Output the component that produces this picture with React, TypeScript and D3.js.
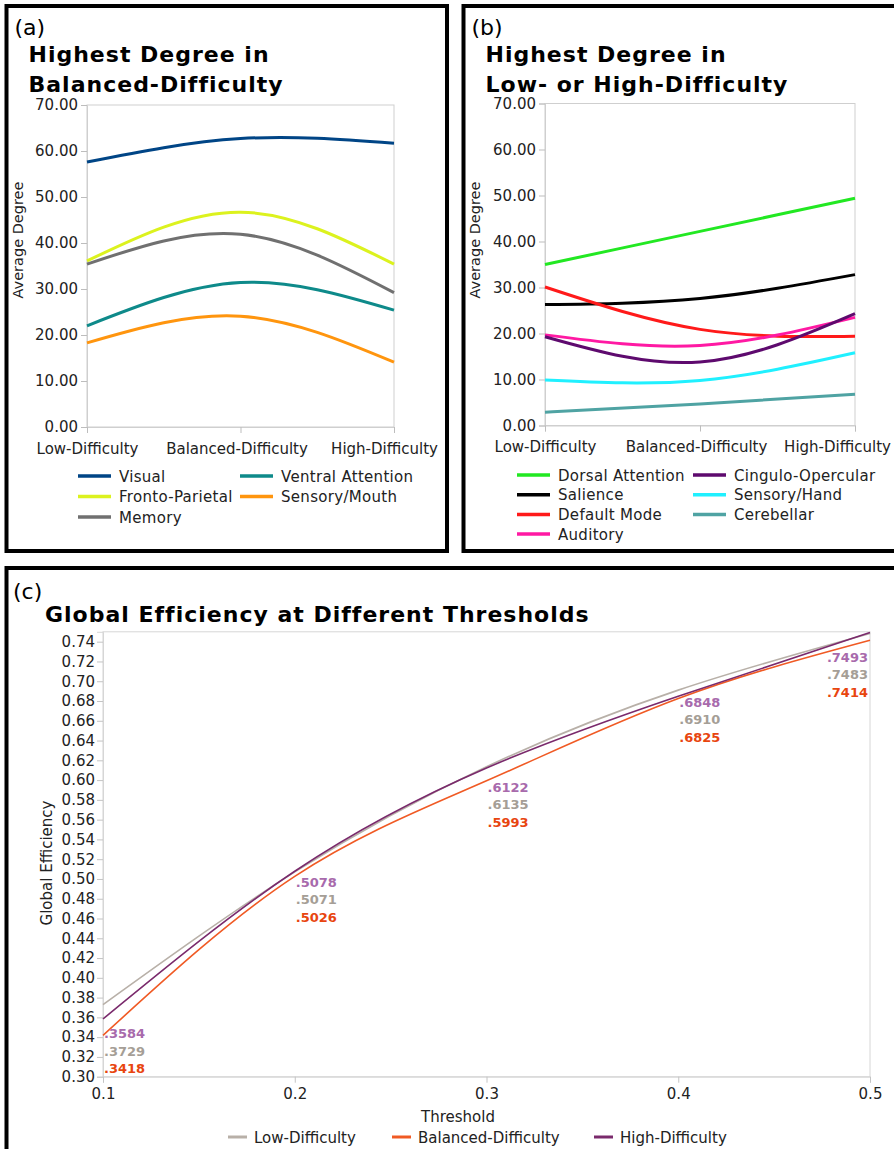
import React, { useEffect, useRef } from "react"
import * as d3 from "d3"

// ---- data ----
const conditions = ["Low-Difficulty", "Balanced-Difficulty", "High-Difficulty"]
const degreeTicks = [0, 10, 20, 30, 40, 50, 60, 70]

// panel (a): highest degree in balanced-difficulty
const balancedNetworks = ["Visual", "Fronto-Parietal", "Memory", "Ventral Attention", "Sensory/Mouth"]
const balancedColors = ["#004586", "#dcf21e", "#707070", "#0e8a8a", "#ff950e"]
const visual = [57.6, 62.7, 61.7]
const frontoParietal = [36.1, 46.7, 35.4]
const memory = [35.4, 41.9, 29.2]
const ventralAttention = [22.0, 31.4, 25.4]
const sensoryMouth = [18.3, 24.1, 14.1]

// panel (b): highest degree in low- or high-difficulty
const extremeNetworks = ["Dorsal Attention", "Salience", "Default Mode", "Auditory", "Cingulo-Opercular", "Sensory/Hand", "Cerebellar"]
const extremeColors = ["#22e822", "#000000", "#ff1a1a", "#ff19a3", "#5e0a6e", "#20f0ff", "#4fa3a3"]
const dorsalAttention = [35.0, 42.2, 49.4]
const salience = [26.3, 27.6, 32.8]
const defaultMode = [30.1, 20.9, 19.4]
const auditory = [19.7, 17.4, 23.5]
const cinguloOpercular = [19.3, 13.8, 24.3]
const sensoryHand = [9.9, 9.8, 15.8]
const cerebellar = [2.9, 4.7, 6.8]

// panel (c): global efficiency
const thresholds = [0.1, 0.2, 0.3, 0.4, 0.5]
const efficiencyTicks = d3.range(0.30, 0.7401, 0.02)
const groups = ["Low-Difficulty", "Balanced-Difficulty", "High-Difficulty"]
const lowEff = [0.3729, 0.5071, 0.6135, 0.6910, 0.7483]
const balancedEff = [0.3418, 0.5026, 0.5993, 0.6825, 0.7414]
const highEff = [0.3584, 0.5078, 0.6122, 0.6848, 0.7493]
const lineColors = ["#b8b0a8", "#f05a24", "#7a2a6c"]
const labelColors = ["#a59e96", "#e8450f", "#a86aac"]

const FONT = "DejaVu Sans, Verdana, sans-serif"

function degreePanel(svg, opts) {
  const { ox, x0, x1, yTop, yBot, letter, title, names, colors, series, rows, legendY, rowGap, col1, col2, lastShift } = opts
  const g = svg.append("g")
  g.append("rect").attr("x", ox).attr("y", 6).attr("width", opts.w).attr("height", 545)
    .attr("fill", "none").attr("stroke", "#000").attr("stroke-width", 4)
  g.append("text").attr("x", ox + 8).attr("y", 35).attr("font-size", 22).text(letter)
  title.forEach((t, i) => {
    g.append("text").attr("x", ox + 22).attr("y", 62 + i * 30).attr("font-size", 22)
      .attr("letter-spacing", 1).attr("font-weight", "bold").text(t)
  })

  const x = d3.scalePoint().domain(conditions).range([x0, x1])
  const y = d3.scaleLinear().domain([0, 70]).range([yBot, yTop])

  // frame
  g.append("rect").attr("x", x0).attr("y", yTop).attr("width", x1 - x0).attr("height", yBot - yTop)
    .attr("fill", "none").attr("stroke", "#cfcfcf").attr("stroke-width", 1)

  const yAxis = g.append("g").attr("transform", `translate(${x0},0)`)
    .call(d3.axisLeft(y).tickValues(degreeTicks).tickFormat(d3.format(".2f")).tickSize(6).tickPadding(3))
  yAxis.select(".domain").attr("stroke", "#cfcfcf")
  yAxis.selectAll("line").attr("stroke", "#bdbdbd")
  yAxis.selectAll("text").attr("font-size", 15).attr("font-family", FONT).attr("fill", "#222")

  const xAxis = g.append("g").attr("transform", `translate(0,${yBot})`)
    .call(d3.axisBottom(x).tickSize(6).tickPadding(10))
  xAxis.select(".domain").attr("stroke", "#cfcfcf")
  xAxis.selectAll("line").attr("stroke", "#bdbdbd")
  xAxis.selectAll("text").attr("font-size", 15).attr("font-family", FONT).attr("fill", "#222")
    .attr("dx", (d, i) => (i === 2 ? lastShift : i === 1 ? -4 : 0))

  g.append("text").attr("transform", `translate(${ox + 16},240) rotate(-90)`)
    .attr("text-anchor", "middle").attr("font-size", 14.5).attr("fill", "#222").text("Average Degree")

  const line = d3.line().x((d, i) => x(conditions[i])).y(d => y(d)).curve(d3.curveNatural)
  series.forEach((s, i) => {
    g.append("path").attr("d", line(s)).attr("fill", "none")
      .attr("stroke", colors[i]).attr("stroke-width", 3)
  })

  names.forEach((n, i) => {
    const col = Math.floor(i / rows)
    const row = i % rows
    const lx = col === 0 ? col1 : col2
    const ly = legendY + row * rowGap
    g.append("line").attr("x1", lx).attr("x2", lx + 33).attr("y1", ly).attr("y2", ly)
      .attr("stroke", colors[i]).attr("stroke-width", 3.5)
    g.append("text").attr("x", lx + 41).attr("y", ly + 5.5).attr("font-size", 15)
      .attr("letter-spacing", 0.3).attr("fill", "#222").text(n)
  })
}

export default function App() {
  const ref = useRef(null)

  useEffect(() => {
    const svg = d3.select(ref.current)
    svg.selectAll("*").remove()
    svg.attr("font-family", FONT)

    degreePanel(svg, {
      ox: 6.5, w: 440.5, x0: 87, x1: 394, yTop: 105, yBot: 427,
      letter: "(a)", title: ["Highest Degree in", "Balanced-Difficulty"],
      names: balancedNetworks, colors: balancedColors,
      series: [visual, frontoParietal, memory, ventralAttention, sensoryMouth],
      rows: 3, legendY: 476, rowGap: 20.5, col1: 78, col2: 240, lastShift: -10
    })
    degreePanel(svg, {
      ox: 463.5, w: 440, x0: 545, x1: 855, yTop: 103.5, yBot: 425.5,
      letter: "(b)", title: ["Highest Degree in", "Low- or High-Difficulty"],
      names: extremeNetworks, colors: extremeColors,
      series: [dorsalAttention, salience, defaultMode, auditory, cinguloOpercular, sensoryHand, cerebellar],
      rows: 4, legendY: 475, rowGap: 19.7, col1: 517, col2: 693, lastShift: -18
    })

    // ---- panel (c) ----
    const g = svg.append("g")
    g.append("rect").attr("x", 6.5).attr("y", 568).attr("width", 900).attr("height", 600)
      .attr("fill", "none").attr("stroke", "#000").attr("stroke-width", 4)
    g.append("text").attr("x", 13).attr("y", 599).attr("font-size", 22).text("(c)")
    g.append("text").attr("x", 45).attr("y", 622).attr("font-size", 22).attr("font-weight", "bold")
      .attr("letter-spacing", 1).text("Global Efficiency at Different Thresholds")

    const x = d3.scaleLinear().domain([0.1, 0.5]).range([103, 870])
    const y = d3.scaleLinear().domain([0.30, 0.75]).range([1076.7, 631.8])

    g.append("rect").attr("x", 103).attr("y", 631.8).attr("width", 767).attr("height", 1076.7 - 631.8)
      .attr("fill", "none").attr("stroke", "#d6d6d6").attr("stroke-width", 1)

    const yAxis = g.append("g").attr("transform", "translate(103,0)")
      .call(d3.axisLeft(y).tickValues(efficiencyTicks).tickFormat(d3.format(".2f")).tickSize(6).tickPadding(2))
    yAxis.select(".domain").attr("stroke", "#d6d6d6")
    yAxis.selectAll("line").attr("stroke", "#c4c4c4")
    yAxis.selectAll("text").attr("font-size", 15).attr("font-family", FONT).attr("fill", "#222")

    const xAxis = g.append("g").attr("transform", "translate(0,1076.7)")
      .call(d3.axisBottom(x).tickValues(thresholds).tickFormat(d3.format(".1f")).tickSize(6).tickPadding(6))
    xAxis.select(".domain").attr("stroke", "#d6d6d6")
    xAxis.selectAll("line").attr("stroke", "#c4c4c4")
    xAxis.selectAll("text").attr("font-size", 15).attr("font-family", FONT).attr("fill", "#222")

    g.append("text").attr("x", 458).attr("y", 1122).attr("text-anchor", "middle")
      .attr("font-size", 15).attr("fill", "#222").text("Threshold")
    g.append("text").attr("transform", "translate(52,863) rotate(-90)").attr("text-anchor", "middle")
      .attr("font-size", 15).attr("fill", "#222").text("Global Efficiency")

    const effSeries = [lowEff, balancedEff, highEff]
    const line = d3.line().x((d, i) => x(thresholds[i])).y(d => y(d)).curve(d3.curveNatural)
    effSeries.forEach((s, i) => {
      g.append("path").attr("d", line(s)).attr("fill", "none")
        .attr("stroke", lineColors[i]).attr("stroke-width", 1.6)
    })

    // value labels: high, low, balanced stacked under each threshold
    const labelOrder = [2, 0, 1]
    const labelDy = [15, 11, 19, 6, 25]
    const fmt = v => d3.format(".4f")(v).slice(1)
    thresholds.forEach((t, j) => {
      const top = y(highEff[j]) + labelDy[j]
      const last = j === thresholds.length - 1
      labelOrder.forEach((gi, k) => {
        g.append("text")
          .attr("x", last ? x(t) - 2 : x(t) + 1)
          .attr("y", top + k * 17.5 + 4.5)
          .attr("text-anchor", last ? "end" : "start")
          .attr("font-size", 13).attr("font-weight", "bold")
          .attr("fill", labelColors[gi]).text(fmt(effSeries[gi][j]))
      })
    })

    const legendX = [228, 392, 594]
    groups.forEach((n, i) => {
      g.append("line").attr("x1", legendX[i]).attr("x2", legendX[i] + 19).attr("y1", 1137).attr("y2", 1137)
        .attr("stroke", lineColors[i]).attr("stroke-width", 3)
      g.append("text").attr("x", legendX[i] + 26).attr("y", 1142.5).attr("font-size", 15)
        .attr("fill", "#222").text(n)
    })
  }, [])

  return (
    <svg ref={ref} width={894} height={1149}
      style={{ position: "absolute", left: 0, top: 0, background: "#fff" }} />
  )
}
